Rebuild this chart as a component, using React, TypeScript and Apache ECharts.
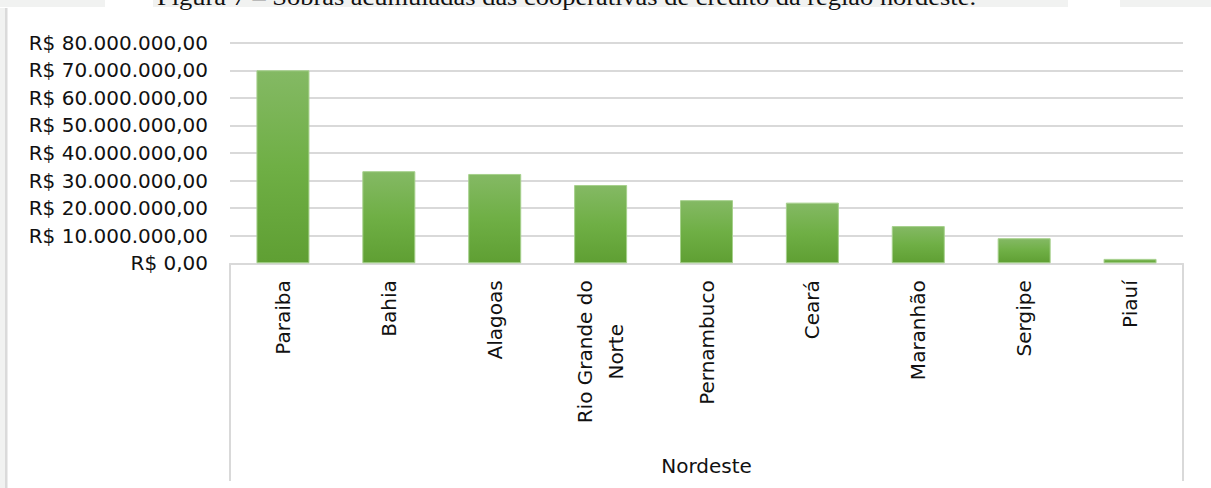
import React, { useEffect, useRef } from "react";
import * as echarts from "echarts";

const categories = [
  "Paraiba",
  "Bahia",
  "Alagoas",
  "Rio Grande do\nNorte",
  "Pernambuco",
  "Ceará",
  "Maranhão",
  "Sergipe",
  "Piauí",
];
const values = [70000000, 33400000, 32400000, 28400000, 22900000, 22000000, 13500000, 9100000, 1600000];
const yMin = 0;
const yMax = 80000000;
const yInterval = 10000000;
const groupLabel = "Nordeste";
const caption = "Figura 7 – Sobras acumuladas das cooperativas de crédito da região nordeste.";

const W = 1211;
const H = 488;
const GRID_LEFT = 230;
const GRID_RIGHT = 1183;
const GRID_TOP = 42.7;
const GRID_BOTTOM = 263.3;
const FONT = "DejaVu Sans";
const LINE = "#d9d9d9";

function fmt(v: number): string {
  const s = Math.round(v).toString();
  return "R$ " + s.replace(/\B(?=(\d{3})+(?!\d))/g, ".") + ",00";
}

export default function App() {
  const ref = useRef<HTMLDivElement>(null);
  useEffect(() => {
    if (!ref.current) return;
    const chart = echarts.init(ref.current, undefined, { renderer: "svg" });
    chart.setOption({
      animation: false,
      backgroundColor: "#ffffff",
      grid: {
        left: GRID_LEFT,
        right: W - GRID_RIGHT,
        top: GRID_TOP,
        bottom: H - GRID_BOTTOM,
        containLabel: false,
        outerBoundsMode: "none",
      },
      xAxis: {
        type: "category",
        data: categories,
        axisLine: { show: true, lineStyle: { color: LINE, width: 2 } },
        axisTick: { show: false },
        axisLabel: {
          rotate: 90,
          margin: 17,
          interval: 0,
          formatter: (val: string) =>
            val
              .split("\n")
              .map((l) => `{c|${l}}`)
              .join("\n"),
          rich: {
            c: {
              align: "center",
              fontFamily: FONT,
              fontSize: 20,
              lineHeight: 31,
              color: "#111111",
            },
          },
        },
      },
      yAxis: {
        type: "value",
        min: yMin,
        max: yMax,
        interval: yInterval,
        axisLine: { show: false },
        axisTick: { show: false },
        splitLine: { lineStyle: { color: LINE, width: 2 } },
        axisLabel: {
          margin: 22,
          fontFamily: FONT,
          fontSize: 20,
          color: "#111111",
          formatter: (v: number) => fmt(v),
        },
      },
      series: [
        {
          type: "bar",
          data: values,
          barWidth: 53,
          itemStyle: {
            color: new echarts.graphic.LinearGradient(0, 0, 0, 1, [
              { offset: 0, color: "#84b964" },
              { offset: 0.5, color: "#6faf45" },
              { offset: 1, color: "#5f9f33" },
            ]),
            borderColor: "#a6d08c",
            borderWidth: 1,
          },
        },
      ],
      graphic: [
        { type: "rect", shape: { x: 0, y: 0, width: 105, height: 7 }, style: { fill: "#f1f2f1" }, silent: true },
        { type: "rect", shape: { x: 153, y: 0, width: 915, height: 7 }, style: { fill: "#f1f2f1" }, silent: true },
        { type: "rect", shape: { x: 1120, y: 0, width: 91, height: 7 }, style: { fill: "#f1f2f1" }, silent: true },
        {
          type: "text",
          x: 157,
          y: 8.5,
          scaleX: 1.15,
          style: {
            text: caption,
            font: "23px 'Liberation Serif'",
            fill: "#111111",
            align: "left",
            verticalAlign: "bottom",
          },
          silent: true,
        },
        { type: "rect", shape: { x: 0, y: 8, width: 5, height: H - 8 }, style: { fill: "#f1f2f1" }, silent: true },
        { type: "rect", shape: { x: 5, y: 8, width: 2.5, height: H - 8 }, style: { fill: "#dadada" }, silent: true },
        {
          type: "line",
          shape: { x1: GRID_LEFT, y1: GRID_BOTTOM, x2: GRID_LEFT, y2: 481 },
          style: { stroke: LINE, lineWidth: 2 },
          silent: true,
        },
        {
          type: "line",
          shape: { x1: GRID_RIGHT, y1: GRID_BOTTOM, x2: GRID_RIGHT, y2: 481 },
          style: { stroke: LINE, lineWidth: 2 },
          silent: true,
        },
        {
          type: "text",
          x: (GRID_LEFT + GRID_RIGHT) / 2,
          y: 466,
          style: {
            text: groupLabel,
            font: `20px '${FONT}'`,
            fill: "#111111",
            align: "center",
            verticalAlign: "middle",
          },
          silent: true,
        },
      ],
    });
    return () => chart.dispose();
  }, []);
  return (
    <div
      ref={ref}
      style={{ position: "absolute", left: 0, top: 0, width: W, height: H }}
    />
  );
}
